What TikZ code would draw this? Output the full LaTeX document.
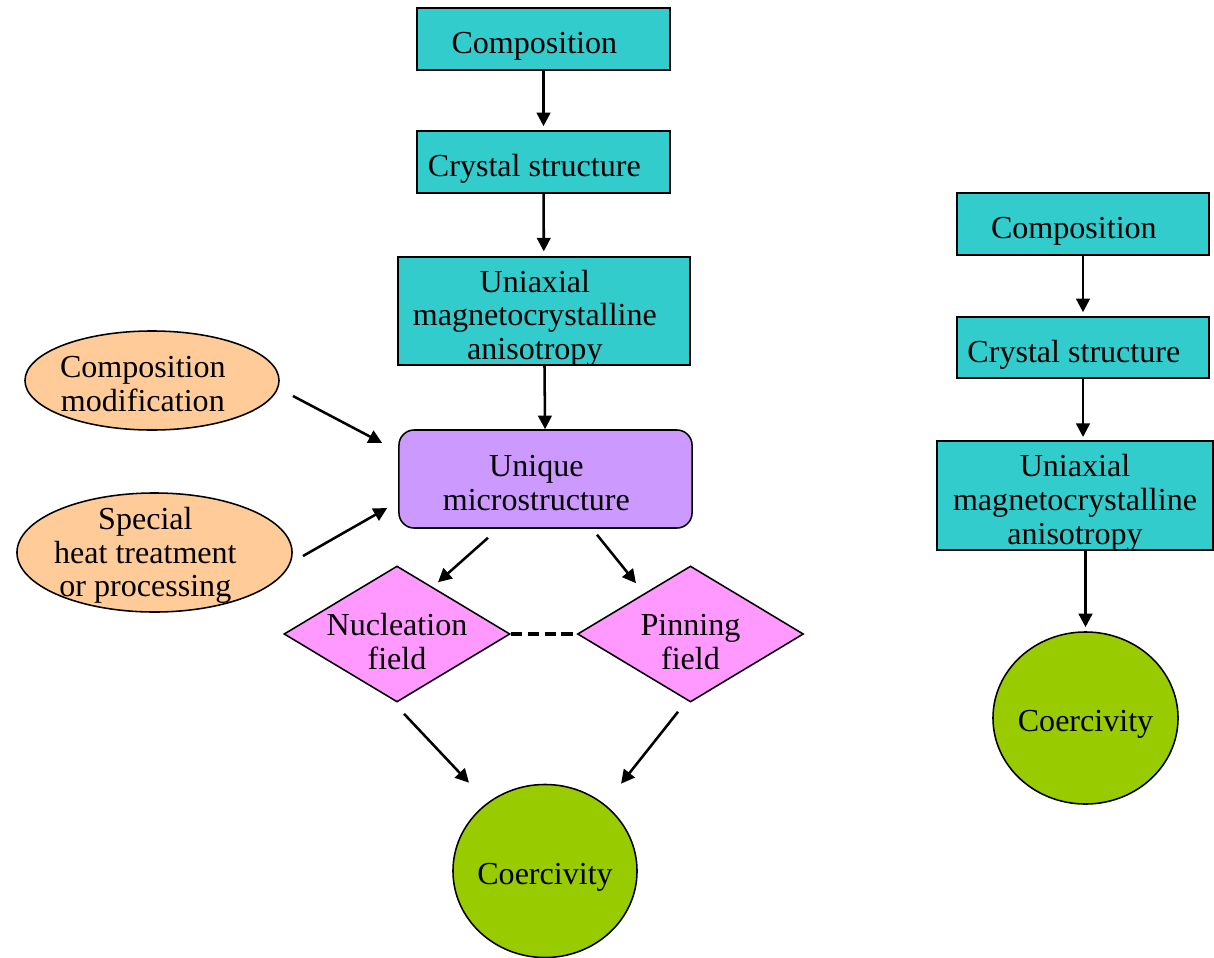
\documentclass[tikz,border=0pt]{standalone}
\usepackage{fontspec}
\setmainfont{Liberation Serif}
\usepackage{xcolor}
\usepackage{tikz}
\usetikzlibrary{arrows.meta, positioning, shapes.geometric}

\definecolor{tealbox}{HTML}{33CCCC}
\definecolor{lilacbox}{HTML}{CC99FF}
\definecolor{peachbox}{HTML}{FFCC99}
\definecolor{pinkbox}{HTML}{FF99FF}
\definecolor{limebox}{HTML}{99CC00}

% invisible strut on the first line, pushes the text a little down
\newcommand{\topgap}[1]{\rule{0pt}{#1}}
% trailing gap, pushes a line a little to the left
\newcommand{\padr}{\rule{13pt}{0pt}}

\begin{document}
\begin{tikzpicture}[x=0.025cm, y=-0.025cm,
  every node/.style={font=\fontsize{22.8}{24}\selectfont, align=center},
  block/.style={rectangle, draw, line width=1.1pt, fill=tealbox, minimum width=6.325cm, minimum height=1.55cm, inner ysep=-2pt},
  micro/.style={rectangle, draw, line width=1.1pt, fill=lilacbox, rounded corners=0.38cm, minimum width=7.325cm, minimum height=2.45cm},
  route/.style={ellipse, draw, line width=1.1pt, fill=peachbox, inner xsep=-7pt, inner ysep=-8pt},
  field/.style={diamond, draw, line width=1.1pt, fill=pinkbox, aspect=1.66, inner sep=-6pt, minimum width=5.65cm, minimum height=3.4cm},
  result/.style={ellipse, draw, line width=1.1pt, fill=limebox, inner xsep=-3pt, inner ysep=0pt},
  arrow/.style={-{Triangle[length=0.34cm, width=0.34cm]}, line width=1.8pt}
]
 \useasboundingbox (0,0) rectangle (1214,958);

 % Left chain
 \node[block] (compL) at (543.5,39) {\topgap{26pt}Composition\padr};
 \node[block] (crysL) at (543.5,162) {\topgap{26pt}Crystal structure\padr};
 \node[block, minimum width=7.3cm, minimum height=2.7cm] (uniL) at (544,311) {\topgap{26pt}Uniaxial\padr\\ magnetocrystalline\padr\\ anisotropy\padr};
 \node[micro] (micro) at (545.5,479) {\topgap{21pt}Unique\padr\\ microstructure\padr};
 \draw[arrow, shorten >=0.1cm] (compL) -- (crysL);
 \draw[arrow, shorten >=0.12cm] (crysL) -- (uniL);
 \draw[arrow] (uniL) -- (micro);

 % Processing routes
 \node[route, minimum width=6.35cm, minimum height=2.475cm] (cmod) at (152,380.5) {\topgap{20pt}Composition\padr\\ modification\padr};
 \node[route, minimum width=6.875cm, minimum height=2.975cm] (heat) at (154.5,552.5) {\topgap{20pt}Special\padr\\ heat treatment\padr\\ or processing\padr};
 \coordinate (cmodA) at ([shift={(141,15.5)}]cmod.center);
 \coordinate (cmodB) at ([shift={(-16,-36)}]micro.west);
 \coordinate (heatA) at ([shift={(148.5,3.5)}]heat.center);
 \coordinate (heatB) at ([shift={(-11,29)}]micro.west);
 \draw[arrow] (cmodA) -- (cmodB);
 \draw[arrow] (heatA) -- (heatB);

 % Fields
 \node[field] (nucl) at (397,634) {\topgap{27pt}Nucleation\\ field};
 \node[field] (pinn) at (690.5,634) {\topgap{27pt}Pinning\\ field};
 \draw[line width=2.4pt, dash pattern=on 8pt off 4pt] (nucl.east) -- (pinn.west);
 \coordinate (nuclA) at ([shift={(-57.5,9)}]micro.south);
 \coordinate (nuclB) at ([shift={(41,17)}]nucl.north);
 \coordinate (pinnA) at ([shift={(51.5,6)}]micro.south);
 \coordinate (pinnB) at ([shift={(-54.5,18)}]pinn.north);
 \draw[arrow] (nuclA) -- (nuclB);
 \draw[arrow] (pinnA) -- (pinnB);

 \node[result, minimum width=4.6cm, minimum height=4.325cm] (coerL) at (545,871) {\topgap{24pt}Coercivity};
 \coordinate (nuclC) at ([shift={(7,11)}]nucl.south);
 \coordinate (nuclD) at ([shift={(-76,-1)}]coerL.north);
 \coordinate (pinnC) at ([shift={(-12.5,9)}]pinn.south);
 \coordinate (pinnD) at ([shift={(76,0)}]coerL.north);
 \draw[arrow] (nuclC) -- (nuclD);
 \draw[arrow] (pinnC) -- (pinnD);

 % Right chain
 \node[block, minimum width=6.3cm] (compR) at (1083,224) {\topgap{26pt}Composition\padr};
 \node[block, minimum width=6.3cm, minimum height=1.525cm] (crysR) at (1083,347.5) {\topgap{26pt}Crystal structure\padr};
 \node[block, minimum width=6.9cm, minimum height=2.725cm] (uniR) at (1075,495.5) {\topgap{26pt}Uniaxial\\ magnetocrystalline\\ anisotropy};
 \node[result, minimum width=4.625cm, minimum height=4.3cm] (coerR) at (1085.5,718) {\topgap{24pt}Coercivity};
 \draw[arrow, shorten >=0.1cm] (compR) -- (crysR);
 \draw[arrow, shorten >=0.08cm] (crysR) -- (crysR |- uniR.north);
 \draw[arrow, shorten >=0.1cm] (coerR |- uniR.south) -- (coerR);
\end{tikzpicture}
\end{document}
